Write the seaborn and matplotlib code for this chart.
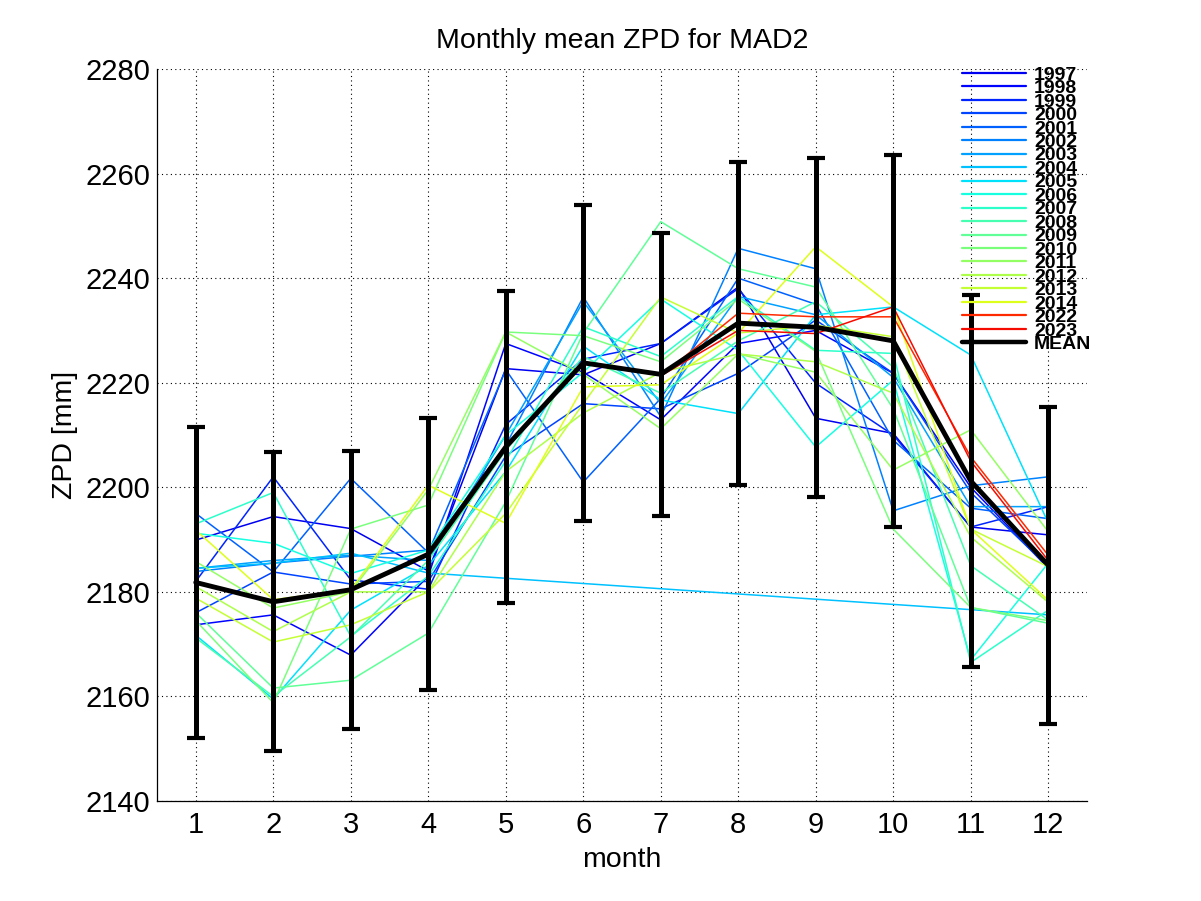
import numpy as np
import pandas as pd
import matplotlib
matplotlib.use("Agg")
import matplotlib.pyplot as plt
import seaborn as sns
from matplotlib.lines import Line2D
from matplotlib import colormaps

nan = np.nan
months = list(range(1, 13))
years = [1997, 1998, 1999, 2000, 2001, 2002, 2003, 2004, 2005, 2006,
         2007, 2008, 2009, 2010, 2011, 2012, 2013, 2014, 2022, 2023]

zpd_1997 = [2189.9, 2194.4, 2192.1, 2184.0, 2222.7, 2221.5, 2227.5, 2238.3, 2213.2, 2210.3, 2192.4, 2190.9]
zpd_1998 = [2173.7, 2175.6, 2167.9, 2183.0, 2227.5, 2222.0, 2212.9, 2227.5, 2230.0, 2221.8, 2200.0, 2184.5]
zpd_1999 = [2182.0, 2202.0, 2182.3, 2180.5, 2212.0, 2224.5, 2227.5, 2238.0, 2219.9, 2210.0, 2192.4, 2196.3]
zpd_2000 = [2176.0, 2183.8, 2181.5, 2182.0, 2206.0, 2216.0, 2215.0, 2221.8, 2232.0, 2221.8, 2199.0, 2184.8]
zpd_2001 = [2195.0, 2183.8, 2201.7, 2187.5, 2222.5, 2201.0, 2217.0, 2240.0, 2235.0, 2209.0, 2196.0, 2194.0]
zpd_2002 = [2183.9, 2185.5, 2186.8, 2188.0, 2208.0, 2236.4, 2213.5, 2245.7, 2241.8, 2195.5, 2200.3, 2202.0]
zpd_2003 = [2184.5, 2186.0, 2187.0, 2186.0, 2210.0, 2235.5, 2216.0, 2236.5, 2233.0, 2221.0, 2196.3, 2196.3]
zpd_2004 = [2184.5, 2185.5, 2187.4, 2183.6, nan, nan, nan, nan, nan, nan, nan, 2175.6]
zpd_2005 = [2171.7, 2159.5, 2176.5, 2185.0, 2203.0, 2227.0, 2216.7, 2214.1, 2233.0, 2234.5, 2225.3, 2193.2]
zpd_2006 = [2191.2, 2189.3, 2183.5, 2188.0, 2210.0, 2222.0, 2236.0, 2226.2, 2207.7, 2220.5, 2167.0, 2185.5]
zpd_2007 = [2193.0, 2199.0, 2171.5, 2183.0, 2205.0, 2230.7, 2225.0, 2236.5, 2226.2, 2225.6, 2166.5, 2176.5]
zpd_2008 = [2171.2, 2160.0, 2171.4, 2186.0, 2207.0, 2225.0, 2218.0, 2228.0, 2235.5, 2223.0, 2185.0, 2174.6]
zpd_2009 = [2176.0, 2161.6, 2163.1, 2172.1, 2197.2, 2229.5, 2250.8, 2241.8, 2238.3, 2215.0, 2177.0, 2174.0]
zpd_2010 = [2174.5, 2158.8, 2192.0, 2196.6, 2229.7, 2229.0, 2224.0, 2236.0, 2226.0, 2192.0, 2177.0, 2174.5]
zpd_2011 = [2185.8, 2176.9, 2180.0, 2199.5, 2229.7, 2221.6, 2211.2, 2225.5, 2222.0, 2203.3, 2211.0, 2191.5]
zpd_2012 = [2181.0, 2172.4, 2180.0, 2180.0, 2203.0, 2214.2, 2222.0, 2225.5, 2224.0, 2218.0, 2190.5, 2178.0]
zpd_2013 = [2178.8, 2170.4, 2173.7, 2180.0, 2195.0, 2216.0, 2236.4, 2229.5, 2231.0, 2228.8, 2192.0, 2184.8]
zpd_2014 = [2191.8, 2178.5, 2180.4, 2200.4, 2193.1, 2219.2, 2219.6, 2229.5, 2246.0, 2234.5, 2192.0, 2178.4]
zpd_2022 = [nan, nan, nan, nan, nan, nan, 2221.3, 2233.3, 2232.6, 2232.6, 2205.8, 2187.0]
zpd_2023 = [nan, nan, nan, nan, nan, nan, 2221.3, 2230.0, 2229.4, 2234.5, 2205.0, 2186.0]

mean_zpd = [2181.8, 2178.1, 2180.4, 2187.2, 2207.7, 2223.8, 2221.6, 2231.4, 2230.6, 2228.0, 2201.2, 2185.1]
err_zpd = [29.7, 28.6, 26.6, 26.0, 29.9, 30.2, 27.1, 30.9, 32.4, 35.5, 35.5, 30.3]

series = [zpd_1997, zpd_1998, zpd_1999, zpd_2000, zpd_2001, zpd_2002, zpd_2003,
          zpd_2004, zpd_2005, zpd_2006, zpd_2007, zpd_2008, zpd_2009, zpd_2010,
          zpd_2011, zpd_2012, zpd_2013, zpd_2014, zpd_2022, zpd_2023]

rows = []
for y, vals in zip(years, series):
    for m, v in zip(months, vals):
        rows.append({"year": str(y), "month": m, "zpd": v})
df = pd.DataFrame(rows).dropna()

jet = colormaps["jet"]
palette = {str(y): jet(0.1 + (y - 1997) * 0.0306) for y in years}

sns.set_style("white")
plt.rcParams["font.family"] = ["Liberation Sans", "DejaVu Sans"]
plt.rcParams["text.color"] = "black"
plt.rcParams["axes.labelcolor"] = "black"
plt.rcParams["xtick.color"] = "black"
plt.rcParams["ytick.color"] = "black"

fig = plt.figure(figsize=(12.01, 9.01), dpi=100)
ax = fig.add_axes([157 / 1201, 1 - 801 / 901, 930 / 1201, 732 / 901])

sns.lineplot(data=df, x="month", y="zpd", hue="year", palette=palette,
             hue_order=[str(y) for y in years], estimator=None, sort=True,
             linewidth=1.1, legend=False, ax=ax)

ax.errorbar(months, mean_zpd, yerr=err_zpd, color="black", linewidth=3.5,
            elinewidth=3.6, capsize=6.5, capthick=3.0, zorder=5)

ax.set_xlim(0.5, 12.5)
ax.set_ylim(2140, 2280)
ax.set_xticks(months)
ax.set_yticks(np.arange(2140, 2281, 20))
ax.grid(True, color="black", linestyle=(0, (1, 3)), linewidth=0.8)
for s in ["top", "right"]:
    ax.spines[s].set_visible(False)
for s in ["left", "bottom"]:
    ax.spines[s].set_color("black")
    ax.spines[s].set_linewidth(0.9)
ax.tick_params(axis="both", direction="in", length=7, width=0.9, colors="black",
               labelcolor="black", labelsize=21)
ax.tick_params(axis="x", pad=7)
ax.tick_params(axis="y", pad=5)

ax.set_title("Monthly mean ZPD for MAD2", fontsize=20.5, pad=15, color="black")
ax.set_xlabel("month", fontsize=20.5, labelpad=6, color="black")
ax.set_ylabel("ZPD [mm]", fontsize=20.5, labelpad=5, color="black")

handles = [Line2D([], [], color=palette[str(y)], linewidth=1.6) for y in years]
handles.append(Line2D([], [], color="black", linewidth=3.2))
labels = [str(y) for y in years] + ["MEAN"]
leg = ax.legend(handles, labels, loc="upper left", bbox_to_anchor=(0.8656, 1.004),
                frameon=False, borderpad=0, borderaxespad=0,
                prop={"family": ["Liberation Sans Narrow", "Liberation Sans"],
                      "weight": "bold", "size": 14},
                labelspacing=-0.213, handlelength=3.3, handletextpad=0.4)
leg.set_zorder(10)
for t in leg.get_texts():
    t.set_color("black")

fig.savefig("out.png", dpi=100)
